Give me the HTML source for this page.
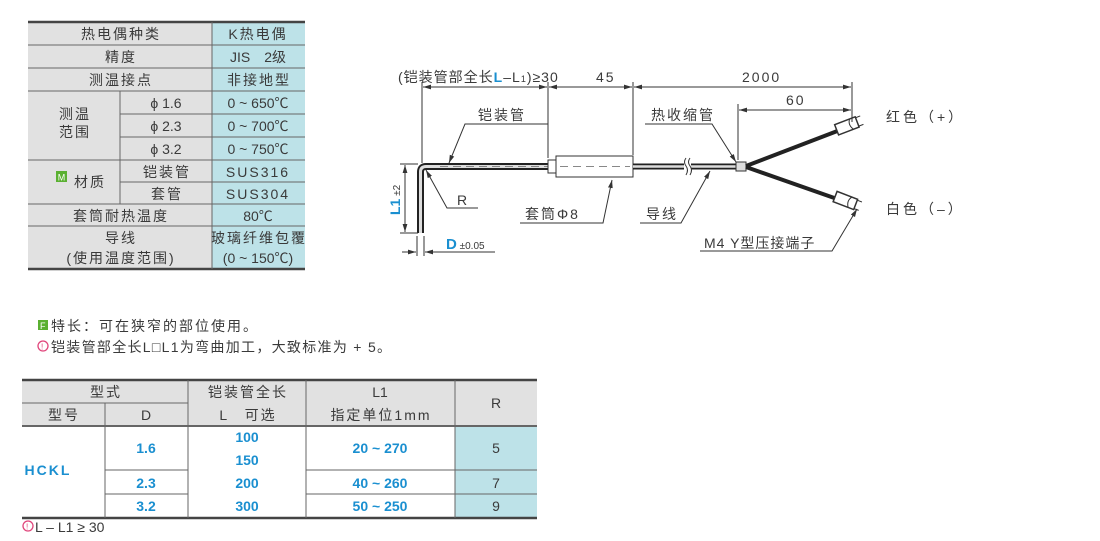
<!DOCTYPE html>
<html><head><meta charset="utf-8"><style>
body{margin:0;background:#fff;}
svg text{font-family:"Liberation Sans","Noto Sans CJK SC",sans-serif;fill:#3a3a3a;}
.c{letter-spacing:2px;}
</style></head><body>
<svg width="1100" height="536" viewBox="0 0 1100 536" xmlns="http://www.w3.org/2000/svg">
<defs>
<marker id="a" viewBox="0 0 10 6" refX="10" refY="3" markerWidth="8" markerHeight="5" orient="auto-start-reverse"><path d="M0,0L10,3L0,6z" fill="#333"/></marker>
</defs>
<!-- top table -->
<g font-size="14" text-anchor="middle">
<rect x="28" y="22" width="184" height="247" fill="#e1e1e1"/>
<rect x="212" y="22" width="93" height="247" fill="#bde2e8"/>
<g stroke="#666" stroke-width="1" fill="none">
<line x1="28" y1="22" x2="305" y2="22" stroke-width="2.5" stroke="#444"/>
<line x1="28" y1="269" x2="305" y2="269" stroke-width="2.5" stroke="#444"/>
<line x1="28" y1="45" x2="305" y2="45"/><line x1="28" y1="68" x2="305" y2="68"/><line x1="28" y1="91" x2="305" y2="91"/>
<line x1="120" y1="114" x2="305" y2="114"/><line x1="120" y1="137" x2="305" y2="137"/>
<line x1="28" y1="160" x2="305" y2="160"/><line x1="120" y1="182" x2="305" y2="182"/>
<line x1="28" y1="204" x2="305" y2="204"/><line x1="28" y1="226" x2="305" y2="226"/>
<line x1="120" y1="91" x2="120" y2="204"/><line x1="212" y1="22" x2="212" y2="269"/>
</g>
<text class="c" x="121" y="39">热电偶种类</text><text x="258" y="39" class="c">K热电偶</text>
<text class="c" x="121" y="62">精度</text><text x="258" y="62">JIS　2级</text>
<text class="c" x="121" y="85">测温接点</text><text class="c" x="259" y="85">非接地型</text>
<text class="c" x="75" y="119">测温</text><text class="c" x="75" y="137">范围</text>
<text x="166" y="108">ϕ 1.6</text><text x="258" y="108">0 ~ 650℃</text>
<text x="166" y="131">ϕ 2.3</text><text x="258" y="131">0 ~ 700℃</text>
<text x="166" y="154">ϕ 3.2</text><text x="258" y="154">0 ~ 750℃</text>
<rect x="56" y="171" width="11" height="11" fill="#5ab031"/><text x="61.5" y="180.5" font-size="9" style="fill:#fff">M</text>
<text class="c" x="90" y="187">材质</text>
<text class="c" x="167" y="177">铠装管</text><text x="258" y="177" class="c">SUS316</text>
<text class="c" x="167" y="199">套管</text><text x="258" y="199" class="c">SUS304</text>
<text class="c" x="121" y="221">套筒耐热温度</text><text x="258" y="221">80℃</text>
<text class="c" x="121" y="243">导线</text><text class="c" x="121" y="263">(使用温度范围)</text>
<text class="c" x="259" y="243">玻璃纤维包覆</text><text x="258" y="263">(0 ~ 150℃)</text>
</g>
<!-- notes -->
<rect x="38" y="320" width="10" height="10" fill="#5ab031"/><text x="40" y="329" font-size="9" style="fill:#fff">F</text>
<text class="c" x="51" y="331" font-size="14">特长：可在狭窄的部位使用。</text>
<circle cx="43" cy="346" r="5" fill="none" stroke="#e0457b" stroke-width="1.3"/><text x="41" y="349.5" font-size="8" style="fill:#e0457b">!</text>
<text x="51" y="352" font-size="14" style="letter-spacing:1.3px">铠装管部全长L□L1为弯曲加工，大致标准为 + 5。</text>
<!-- bottom table -->
<g font-size="14" text-anchor="middle">
<rect x="22" y="380" width="515" height="46" fill="#e1e1e1"/>
<rect x="455" y="426" width="82" height="92" fill="#bde2e8"/>
<g stroke="#666" fill="none">
<line x1="22" y1="380" x2="537" y2="380" stroke-width="2.5" stroke="#444"/>
<line x1="22" y1="518" x2="537" y2="518" stroke-width="2.5" stroke="#444"/>
<line x1="22" y1="426" x2="537" y2="426" stroke-width="2"/>
<line x1="22" y1="403" x2="188" y2="403"/>
<line x1="105" y1="403" x2="105" y2="518"/><line x1="188" y1="380" x2="188" y2="518"/>
<line x1="306" y1="380" x2="306" y2="518"/><line x1="455" y1="380" x2="455" y2="518"/>
<line x1="105" y1="470" x2="188" y2="470"/><line x1="306" y1="470" x2="537" y2="470"/>
<line x1="105" y1="494" x2="188" y2="494"/><line x1="306" y1="494" x2="537" y2="494"/>
</g>
<text class="c" x="106" y="397">型式</text><text class="c" x="64" y="420">型号</text><text x="146" y="420">D</text>
<text class="c" x="248" y="397">铠装管全长</text><text class="c" x="248" y="420">L　可选</text>
<text x="380" y="397">L1</text><text class="c" x="381" y="420">指定单位1mm</text>
<text x="496" y="408">R</text>
<g font-weight="bold" font-size="14">
<text x="48" y="475" style="fill:#1a8fd0" class="c">HCKL</text>
<text x="146" y="453" style="fill:#1a8fd0">1.6</text><text x="146" y="488" style="fill:#1a8fd0">2.3</text><text x="146" y="511" style="fill:#1a8fd0">3.2</text>
<text x="247" y="442" style="fill:#1a8fd0">100</text><text x="247" y="465" style="fill:#1a8fd0">150</text>
<text x="247" y="488" style="fill:#1a8fd0">200</text><text x="247" y="511" style="fill:#1a8fd0">300</text>
<text x="380" y="453" style="fill:#1a8fd0">20 ~ 270</text><text x="380" y="488" style="fill:#1a8fd0">40 ~ 260</text><text x="380" y="511" style="fill:#1a8fd0">50 ~ 250</text>
</g>
<text x="496" y="453">5</text><text x="496" y="488">7</text><text x="496" y="511">9</text>
</g>
<circle cx="28" cy="526" r="5" fill="none" stroke="#e0457b" stroke-width="1.3"/><text x="26" y="529.5" font-size="8" style="fill:#e0457b">!</text>
<text x="35" y="532" font-size="14">L – L1 ≥ 30</text>
<!-- drawing -->
<g stroke="#333" fill="none" stroke-width="1">
<path d="M420.5,233 V172 Q420.5,166.5 426,166.5 H548" stroke="#222" stroke-width="7"/>
<path d="M420.5,233 V172 Q420.5,166.5 426,166.5 H548" stroke="#ddd" stroke-width="3"/>
<line x1="440" y1="166.5" x2="548" y2="166.5" stroke="#888" stroke-dasharray="8,5"/>
<rect x="548" y="160" width="8" height="13" fill="#fff"/>
<rect x="556" y="156" width="77" height="21" fill="#fff"/>
<line x1="560" y1="166.5" x2="630" y2="166.5" stroke="#888" stroke-dasharray="8,5"/>
<path d="M633,166.5 H737" stroke="#222" stroke-width="6"/>
<path d="M633,166.5 H737" stroke="#ddd" stroke-width="2.5"/>
<rect x="684" y="158" width="7" height="18" fill="#fff" stroke="none"/>
<path d="M686,158 q-3,4 0,8 q3,4 0,9 M690,158 q-3,4 0,8 q3,4 0,9"/>
<rect x="736" y="162" width="10" height="9" fill="#ddd"/>
<path d="M746,166 L840,130" stroke="#222" stroke-width="4"/>
<path d="M746,167 L840,200" stroke="#222" stroke-width="4"/>
<g transform="rotate(-21 848 126)"><rect x="836" y="120" width="22" height="11" fill="#fff" stroke-width="1.5"/><path d="M852,120 q-4,5 0,11 M858,121 l5,0 M858,130 l5,0"/></g>
<g transform="rotate(21 848 202)"><rect x="834" y="196" width="22" height="11" fill="#fff" stroke-width="1.5"/><path d="M850,196 q-4,5 0,11 M856,197 l5,0 M856,206 l5,0"/></g>
<line x1="422" y1="82" x2="422" y2="163"/><line x1="548" y1="82" x2="548" y2="158"/>
<line x1="633" y1="82" x2="633" y2="155"/><line x1="852" y1="82" x2="852" y2="122"/>
<line x1="738" y1="104" x2="738" y2="160"/>
<line x1="423" y1="87" x2="547" y2="87" marker-start="url(#a)" marker-end="url(#a)"/>
<line x1="549" y1="87" x2="632" y2="87" marker-start="url(#a)" marker-end="url(#a)"/>
<line x1="634" y1="87" x2="851" y2="87" marker-start="url(#a)" marker-end="url(#a)"/>
<line x1="739" y1="110" x2="851" y2="110" marker-start="url(#a)" marker-end="url(#a)"/>
<line x1="400" y1="164" x2="418" y2="164"/><line x1="400" y1="233" x2="418" y2="233"/>
<line x1="405" y1="165" x2="405" y2="232" marker-start="url(#a)" marker-end="url(#a)"/>
<line x1="417" y1="236" x2="417" y2="256"/><line x1="424" y1="236" x2="424" y2="256"/>
<line x1="402" y1="252" x2="416" y2="252" marker-end="url(#a)"/>
<line x1="440" y1="252" x2="425" y2="252" marker-end="url(#a)"/>
<line x1="440" y1="252" x2="495" y2="252"/>
<path d="M548,124 H465 L449,163" marker-end="url(#a)"/>
<path d="M478,208 H447 L426,170" marker-end="url(#a)"/>
<path d="M520,223 H603 L612,180" marker-end="url(#a)"/>
<path d="M645,124 H712 L736,162" marker-end="url(#a)"/>
<path d="M640,223 H681 L710,171" marker-end="url(#a)"/>
<path d="M700,251 H832 L857,209" marker-end="url(#a)"/>
</g>
<g font-size="14">
<text x="398" y="82" style="letter-spacing:1px">(铠装管部全长<tspan style="fill:#1a8fd0;font-weight:bold">L</tspan>–L<tspan font-size="9">1</tspan>)≥30</text>
<text x="596" y="82" class="c">45</text><text x="742" y="82" class="c">2000</text><text x="786" y="105" class="c">60</text>
<text class="c" x="478" y="120">铠装管</text><text x="457" y="205">R</text>
<text class="c" x="525" y="219">套筒Φ8</text><text class="c" x="651" y="120">热收缩管</text>
<text class="c" x="646" y="219">导线</text><text x="704" y="248" style="letter-spacing:1px">M4 Y型压接端子</text>
<text class="c" x="886" y="122" style="letter-spacing:3px">红色（+）</text><text class="c" x="886" y="214" style="letter-spacing:3px">白色（–）</text>
<text x="446" y="249"><tspan style="fill:#1a8fd0;font-weight:bold" font-size="15">D</tspan><tspan font-size="10"> ±0.05</tspan></text>
<text transform="translate(400,215) rotate(-90)"><tspan style="fill:#1a8fd0;font-weight:bold" font-size="14">L1</tspan><tspan font-size="10"> ±2</tspan></text>
</g>
</svg>
</body></html>
